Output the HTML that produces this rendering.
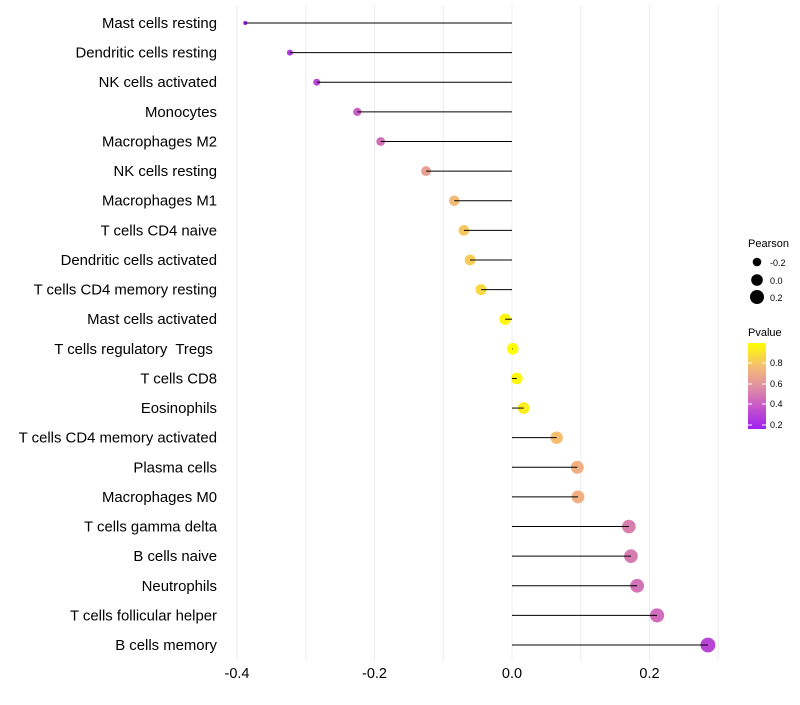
<!DOCTYPE html>
<html><head><meta charset="utf-8"><style>
body{margin:0;background:#fff;font-family:"Liberation Sans",sans-serif}
text{white-space:pre}
</style></head><body>
<svg id="c" width="800" height="700" xmlns="http://www.w3.org/2000/svg"></svg>
<script>
const categories=["Mast cells resting","Dendritic cells resting","NK cells activated","Monocytes","Macrophages M2","NK cells resting","Macrophages M1","T cells CD4 naive","Dendritic cells activated","T cells CD4 memory resting","Mast cells activated","T cells regulatory  Tregs ","T cells CD8","Eosinophils","T cells CD4 memory activated","Plasma cells","Macrophages M0","T cells gamma delta","B cells naive","Neutrophils","T cells follicular helper","B cells memory"];
const pearson=[-0.388,-0.323,-0.284,-0.225,-0.191,-0.125,-0.084,-0.070,-0.061,-0.045,-0.010,0.001,0.007,0.017,0.065,0.095,0.096,0.170,0.173,0.182,0.211,0.285];
const pvalue=[0.18,0.28,0.33,0.42,0.47,0.65,0.76,0.80,0.82,0.86,0.96,0.99,0.97,0.93,0.77,0.72,0.72,0.52,0.51,0.48,0.46,0.32];
const xTicks=[-0.4,-0.2,0.0,0.2];
const xTickLabels=["-0.4","-0.2","0.0","0.2"];
const NS="http://www.w3.org/2000/svg",svg=document.getElementById('c');
function X(v){return 512+v*687.5}
function Y(i){return 23+i*29.62}
function mk(t,a,p){const e=document.createElementNS(NS,t);for(const k in a)e.setAttribute(k,a[k]);(p||svg).appendChild(e);return e}
const stops=[[0.18,[160,32,240]],[0.4,[200,90,200]],[0.55,[221,136,168]],[0.75,[243,183,122]],[0.99,[255,255,0]]];
function col(p){p=Math.max(0.18,Math.min(0.99,p));for(let i=0;i<stops.length-1;i++){const[a,ca]=stops[i],[b,cb]=stops[i+1];if(p<=b){const t=(p-a)/(b-a);return 'rgb('+ca.map((c,j)=>Math.round(c+(cb[j]-c)*t)).join(',')+')'}}return 'rgb(255,255,0)'}
function R(v){return Math.sqrt(Math.max(2,33.75+76*v))}
for(let v=-0.4;v<=0.301;v+=0.1){const g=mk('line',{x1:X(v),x2:X(v),y1:5,y2:660,stroke:'#ebebeb','stroke-width':1});}
xTicks.forEach((t,i)=>{const e=mk('text',{x:X(t),y:678,'text-anchor':'middle','font-size':14.5,fill:'#000'});e.textContent=xTickLabels[i];});
categories.forEach((c,i)=>{
 const y=Y(i);
 const l=mk('text',{x:217,y:y+5,'text-anchor':'end','font-size':14.9,fill:'#000'});l.textContent=c;
 
 
 const d=mk('circle',{cx:X(pearson[i]),cy:y,r:R(pearson[i]),fill:col(pvalue[i])});
 
 
 const s=mk('line',{x1:X(0),x2:X(pearson[i]),y1:y,y2:y,stroke:'#000','stroke-width':1});
 
 
});
const lg=mk('g',{});
let t=mk('text',{x:748,y:247,'font-size':11},lg);t.textContent='Pearson';
[[-0.2,262],[0.0,280],[0.2,297]].forEach(([v,y])=>{mk('circle',{cx:757,cy:y,r:R(v),fill:'#000'},lg);const q=mk('text',{x:770,y:y+4,'font-size':9},lg);q.textContent=v.toFixed(1);});
t=mk('text',{x:748,y:336,'font-size':11},lg);t.textContent='Pvalue';
const defs=mk('defs',{},lg);const gr=mk('linearGradient',{id:'pg',x1:0,y1:1,x2:0,y2:0},defs);
stops.forEach(([p,c])=>mk('stop',{offset:((p-0.18)/0.81),'stop-color':'rgb('+c.join(',')+')'},gr));
mk('rect',{x:748,y:343,width:18,height:86,fill:'url(#pg)'},lg);
[[0.8,363],[0.6,384],[0.4,404],[0.2,425]].forEach(([v,y])=>{mk('line',{x1:748,x2:752,y1:y,y2:y,stroke:'#fff'},lg);mk('line',{x1:762,x2:766,y1:y,y2:y,stroke:'#fff'},lg);const q=mk('text',{x:770,y:y+3,'font-size':9},lg);q.textContent=v.toFixed(1);});
</script>
</body></html>
